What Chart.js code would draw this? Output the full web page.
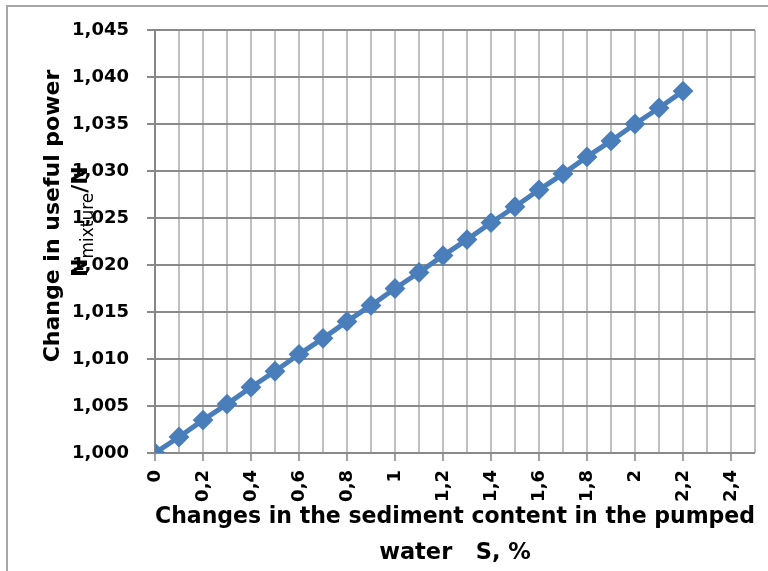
<!DOCTYPE html>
<html>
<head>
<meta charset="utf-8">
<script src="https://cdn.jsdelivr.net/npm/chart.js@4/dist/chart.umd.min.js"></script>
<style>
html, body { margin: 0; padding: 0; background: #fff; overflow: hidden; }
#frame { position: absolute; left: 6px; top: 5px; width: 800px; height: 600px; border: 2px solid #a6a6a6; }
#c { position: absolute; left: 0; top: 0; }
</style>
</head>
<body>
<div id="frame"></div>
<canvas id="c" width="768" height="571"></canvas>
<script>
// sediment content S, %
const sediment = [0, 0.1, 0.2, 0.3, 0.4, 0.5, 0.6, 0.7, 0.8, 0.9, 1.0, 1.1,
                  1.2, 1.3, 1.4, 1.5, 1.6, 1.7, 1.8, 1.9, 2.0, 2.1, 2.2];
// N mixture / N
const powerRatio = [1.0000, 1.0017, 1.0035, 1.0052, 1.0070, 1.0087, 1.0105, 1.0122,
                    1.0140, 1.0157, 1.0175, 1.0192, 1.0210, 1.0227, 1.0245, 1.0262,
                    1.0280, 1.0297, 1.0315, 1.0332, 1.0350, 1.0367, 1.0385];

const xTitle = ['Changes in the sediment content in the pumped', 'water   S, %'];
const yTitle = 'Change in useful power';

const FONT = "'DejaVu Sans', sans-serif";

// labels only every 0.2 up to 2.4
function isMajor(v) {
    const k = Math.round(v * 10);
    return k % 2 === 0 && k <= 24;
}

// y title drawn by hand (second line has a subscript)
const yTitlePlugin = {
    id: 'yTitle',
    afterDraw(chart) {
        const ctx = chart.ctx;
        ctx.save();
        ctx.fillStyle = '#000';
        ctx.textBaseline = 'middle';
        ctx.translate(53, 216);
        ctx.rotate(-Math.PI / 2);
        ctx.textAlign = 'center';
        ctx.font = 'bold 22px ' + FONT;
        ctx.fillText(yTitle, 0, 0);

        // N_mixture/N overlapping the tick labels
        ctx.textAlign = 'left';
        ctx.translate(-61, 28);
        ctx.font = 'bold 22px ' + FONT;
        ctx.fillText('N', 0, 0);
        let w = ctx.measureText('N').width;
        ctx.font = '17px ' + FONT;
        ctx.fillText('mixture', w, 8);
        w += ctx.measureText('mixture').width;
        ctx.font = 'bold 22px ' + FONT;
        ctx.fillText('/N', w, 0);
        ctx.restore();
    }
};

new Chart(document.getElementById('c'), {
    type: 'line',
    data: {
        datasets: [{
            data: sediment.map((s, i) => ({ x: s, y: powerRatio[i] })),
            borderColor: '#4a7ebb',
            backgroundColor: '#4a7ebb',
            borderWidth: 5,
            pointStyle: 'rectRot',
            pointRadius: 9,
            pointBorderWidth: 2,
            tension: 0
        }]
    },
    options: {
        responsive: false,
        animation: false,
        layout: { padding: { top: 30, right: 13, left: 0, bottom: 0 } },
        plugins: {
            legend: { display: false },
            tooltip: { enabled: false }
        },
        scales: {
            x: {
                type: 'linear',
                min: 0,
                max: 2.5,
                afterFit: scale => {
                    scale.height = 118;
                    scale.paddingLeft = 0;
                    scale.paddingRight = 0;
                },
                ticks: {
                    stepSize: 0.1,
                    autoSkip: false,
                    minRotation: 90,
                    maxRotation: 90,
                    padding: 9,
                    color: '#000',
                    font: { family: FONT, size: 18, weight: 'bold' },
                    callback: v => isMajor(v) ? String(Math.round(v * 10) / 10).replace('.', ',') : ''
                },
                grid: {
                    color: '#c0c0c0',
                    lineWidth: 2,
                    tickLength: 8,
                    tickColor: c => isMajor(c.tick.value) ? '#a0a0a0' : 'rgba(0,0,0,0)'
                },
                border: { display: false },
                title: {
                    display: true,
                    text: xTitle,
                    color: '#000',
                    padding: 0,
                    font: { family: FONT, size: 22.5, weight: 'bold', lineHeight: '36px' }
                }
            },
            y: {
                min: 1.000,
                max: 1.045,
                afterFit: scale => { scale.width = 155; },
                ticks: {
                    stepSize: 0.005,
                    padding: 18,
                    color: '#000',
                    font: { family: FONT, size: 18, weight: 'bold' },
                    callback: v => v.toFixed(3).replace('.', ',')
                },
                grid: {
                    color: '#8a8a8a',
                    lineWidth: 2,
                    tickLength: 8,
                    tickColor: '#8a8a8a'
                },
                border: { display: true, color: '#868686', width: 2 }
            }
        }
    },
    plugins: [yTitlePlugin]
});
</script>
</body>
</html>
